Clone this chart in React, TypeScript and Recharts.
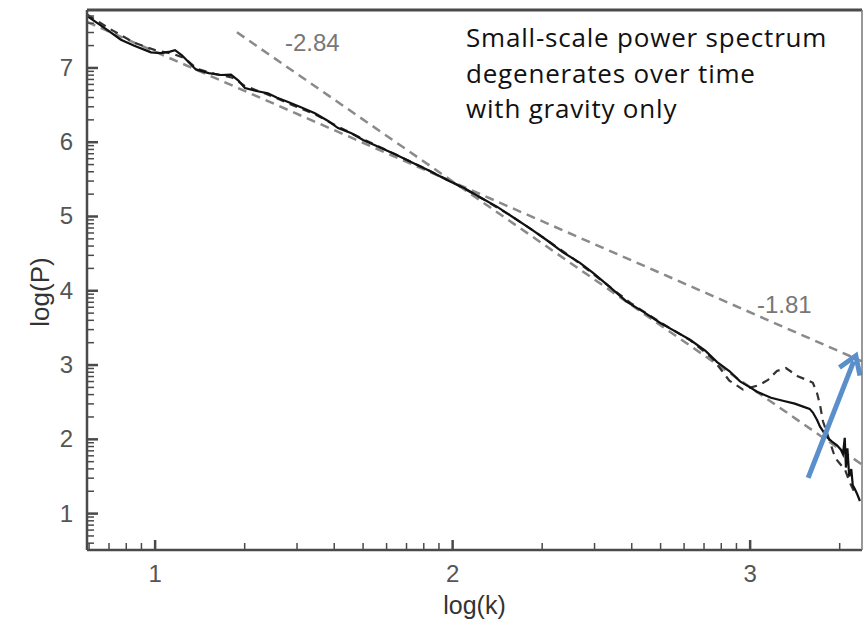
import React from 'react'
import { LineChart, Line, XAxis, YAxis } from 'recharts'

// axis ticks (log-scale minor ticks drawn inside the frame)
const kTicks = [1, 2, 3]
const pTicks = [1, 2, 3, 4, 5, 6, 7]
const kMinorTicks = [
  0.778, 0.845, 0.903, 0.954,
  1.301, 1.477, 1.602, 1.699, 1.778, 1.845, 1.903, 1.954,
  2.301, 2.477, 2.602, 2.699, 2.778, 2.845, 2.903, 2.954,
  3.301,
]
const pMinorTicks = [
  0.602, 0.699, 0.778, 0.845, 0.903, 0.954,
  1.301, 1.477, 1.602, 1.699, 1.778, 1.845, 1.903, 1.954,
  2.301, 2.477, 2.602, 2.699, 2.778, 2.845, 2.903, 2.954,
  3.301, 3.477, 3.602, 3.699, 3.778, 3.845, 3.903, 3.954,
  4.301, 4.477, 4.602, 4.699, 4.778, 4.845, 4.903, 4.954,
  5.301, 5.477, 5.602, 5.699, 5.778, 5.845, 5.903, 5.954,
  6.301, 6.477, 6.602, 6.699, 6.778, 6.845, 6.903, 6.954,
  7.301, 7.477, 7.602, 7.699,
]

// power spectrum, solid curve
const kSolid = [
  0.771, 0.8, 0.84, 0.885, 0.93, 0.986, 1.02, 1.05, 1.067, 1.09, 1.137, 1.18,
  1.221, 1.255, 1.28, 1.302, 1.34, 1.379, 1.41, 1.447, 1.49, 1.537, 1.58, 1.615,
  1.66, 1.699, 1.756, 1.81, 1.867, 1.92, 1.981, 2.04, 2.092, 2.15, 2.203, 2.26,
  2.317, 2.37, 2.428, 2.472, 2.52, 2.586, 2.64, 2.697, 2.75, 2.798, 2.85, 2.889,
  2.93, 2.966, 3.0, 3.023, 3.07, 3.11, 3.15, 3.178, 3.2, 3.211, 3.225, 3.235,
  3.258, 3.275, 3.292, 3.305, 3.312, 3.318, 3.322, 3.327, 3.333, 3.34, 3.345,
  3.352, 3.36, 3.369,
]
const pSolid = [
  7.7, 7.62, 7.51, 7.38, 7.3, 7.21, 7.2, 7.22, 7.24, 7.17, 6.98, 6.93,
  6.905, 6.91, 6.83, 6.73, 6.69, 6.66, 6.6, 6.54, 6.47, 6.39, 6.29, 6.19,
  6.12, 6.03, 5.93, 5.83, 5.72, 5.62, 5.49, 5.38, 5.26, 5.13, 4.99, 4.84,
  4.68, 4.52, 4.375, 4.24, 4.08, 3.85, 3.72, 3.57, 3.45, 3.34, 3.19, 3.04,
  2.92, 2.78, 2.7, 2.64, 2.56, 2.52, 2.48, 2.44, 2.41, 2.36, 2.26, 2.17,
  2.03, 1.97, 1.92, 1.86, 1.8, 2.02, 1.62, 1.88, 1.5, 1.6, 1.38,
  1.33, 1.26, 1.17,
]

// power spectrum, dashed curve
const kDashed = [
  0.771, 0.85, 0.93, 1.0, 1.06, 1.1, 1.14, 1.2, 1.26, 1.3, 1.38, 1.45, 1.54,
  1.62, 1.7, 1.8, 1.9, 2.0, 2.1, 2.2, 2.3, 2.4, 2.5, 2.6, 2.7, 2.8, 2.87, 2.9,
  2.93, 2.976, 3.03, 3.06, 3.09, 3.12, 3.16, 3.19, 3.211, 3.225, 3.235, 3.245,
  3.258, 3.28, 3.292, 3.319, 3.336, 3.352,
]
const pDashed = [
  7.72, 7.52, 7.34, 7.24, 7.19, 7.13, 6.99, 6.92, 6.87, 6.76, 6.64, 6.52, 6.37,
  6.2, 6.04, 5.85, 5.66, 5.46, 5.24, 5.0, 4.73, 4.45, 4.14, 3.83, 3.57, 3.33, 3.1, 2.95,
  2.79, 2.67, 2.73, 2.8, 2.92, 2.96, 2.85, 2.8, 2.76, 2.62, 2.46, 2.24,
  2.09, 1.82, 1.72, 1.59, 1.41, 1.28,
]

// power-law fits
const kFitShallow = [0.771, 3.376]
const pFitShallow = [7.62, 3.05]
const kFitSteep = [1.275, 3.376]
const pFitSteep = [7.48, 1.66]

// annotation arrow
const kArrow = [3.195, 3.348]
const pArrow = [1.48, 3.05]

const annotationLines = ['Small-scale power spectrum', 'degenerates over time', 'with gravity only']

const toRows = (k: number[], p: number[]) => k.map((v, i) => ({ k: v, p: p[i] }))

const kDomain: [number, number] = [0.771, 3.376]
const pDomain: [number, number] = [0.51, 7.78]

const axisColor = '#4a4a4a'
const fontFamily = '"Liberation Sans", Arial, sans-serif'

const NoLabel = () => <g />

// x labels sit under the frame, the tick marks point inwards
const XTickLabel = (props: any) => (
  <text x={props.x} y={582} textAnchor="middle" fontFamily={fontFamily} fontSize={24} fill="#555">
    {props.payload.value}
  </text>
)

const YTickLabel = (props: any) => (
  <text x={props.x} y={props.y} dy={8} textAnchor="end" fontFamily={fontFamily} fontSize={24} fill="#555">
    {props.payload.value}
  </text>
)

const PTitle = () => (
  <text x={40} y={292} transform="rotate(-90 40 292)" dy={9} textAnchor="middle"
    fontFamily={fontFamily} fontSize={26} fill="#333">
    log(P)
  </text>
)

export default function App() {
  return (
    <div style={{ position: 'absolute', left: 0, top: 0, width: 864, height: 626, background: '#fff' }}>
      <svg width={0} height={0} style={{ position: 'absolute' }}>
        <defs>
          <marker id="arrowHead" viewBox="0 0 28 28" markerWidth={28} markerHeight={28}
            refX={16} refY={14} orient="auto" markerUnits="userSpaceOnUse">
            <path d="M5,3 L22,14 L5,25" fill="none" stroke="#5b8fcb" strokeWidth={5} strokeLinejoin="miter" />
          </marker>
        </defs>
      </svg>
      <LineChart width={864} height={626} margin={{ top: 9, right: 1, bottom: 0, left: 0 }}>
        <XAxis xAxisId="k" type="number" dataKey="k" domain={kDomain} allowDataOverflow
          ticks={kTicks} interval={0} mirror height={1} tick={XTickLabel} tickSize={10}
          axisLine={{ stroke: axisColor, strokeWidth: 2.5 }} tickLine={{ stroke: axisColor, strokeWidth: 2.5 }}
          label={{ value: 'log(k)', position: 'insideBottom', offset: -64, style: { fontFamily, fill: '#333', fontSize: 25 } }} />
        <XAxis xAxisId="kMinor" type="number" dataKey="k" domain={kDomain} allowDataOverflow
          ticks={kMinorTicks} interval={0} mirror height={1} tick={NoLabel} tickSize={6}
          axisLine={false} tickLine={{ stroke: axisColor, strokeWidth: 1.5 }} />
        <XAxis xAxisId="kSpace" type="number" dataKey="k" domain={kDomain} allowDataOverflow
          height={76} tick={false} tickLine={false} axisLine={false} />
        <XAxis xAxisId="top" orientation="top" type="number" domain={kDomain} allowDataOverflow
          height={1} tick={false} tickLine={false} axisLine={{ stroke: axisColor, strokeWidth: 3 }} />

        <YAxis yAxisId="p" type="number" dataKey="p" domain={pDomain} allowDataOverflow
          ticks={pTicks} interval={0} mirror width={1} tick={NoLabel} tickSize={11}
          axisLine={{ stroke: axisColor, strokeWidth: 2.5 }} tickLine={{ stroke: axisColor, strokeWidth: 2.5 }} />
        <YAxis yAxisId="pMinor" type="number" domain={pDomain} allowDataOverflow
          ticks={pMinorTicks} interval={0} mirror width={1} tick={NoLabel} tickSize={6}
          axisLine={false} tickLine={{ stroke: axisColor, strokeWidth: 1.5 }} />
        <YAxis yAxisId="pLabel" type="number" domain={pDomain} allowDataOverflow
          ticks={pTicks} interval={0} width={87} tickLine={false} axisLine={false} tickMargin={8}
          tick={YTickLabel} label={<PTitle />} />
        <YAxis yAxisId="right" orientation="right" type="number" domain={pDomain} allowDataOverflow
          width={1} tick={false} tickLine={false} axisLine={{ stroke: '#777', strokeWidth: 1.5 }} />

        {/* the axes share one domain, so each series can hang on any of them */}
        <Line xAxisId="kMinor" yAxisId="p" data={toRows(kFitShallow, pFitShallow)} dataKey="p" type="linear"
          stroke="#8a8a8a" strokeWidth={2.5} strokeDasharray="9 6" dot={false} isAnimationActive={false} />
        <Line xAxisId="kSpace" yAxisId="p" data={toRows(kFitSteep, pFitSteep)} dataKey="p" type="linear"
          stroke="#8a8a8a" strokeWidth={2.5} strokeDasharray="9 6" dot={false} isAnimationActive={false} />
        <Line xAxisId="k" yAxisId="p" data={toRows(kDashed, pDashed)} dataKey="p" type="linear"
          stroke="#333" strokeWidth={2.2} strokeDasharray="8 6" dot={false} isAnimationActive={false} />
        <Line xAxisId="k" yAxisId="p" data={toRows(kSolid, pSolid)} dataKey="p" type="linear"
          stroke="#111" strokeWidth={2.2} dot={false} isAnimationActive={false} />
        <Line xAxisId="k" yAxisId="p" data={toRows(kArrow, pArrow)} dataKey="p" type="linear"
          stroke="#5b8fcb" strokeWidth={5} markerEnd="url(#arrowHead)" dot={false} isAnimationActive={false} />
      </LineChart>

      <div style={{ position: 'absolute', left: 285, top: 31, ...slopeStyle }}>-2.84</div>
      <div style={{ position: 'absolute', left: 757, top: 293, ...slopeStyle }}>-1.81</div>
      {annotationLines.map((line, i) => (
        <div key={line} style={{
          position: 'absolute', left: 466, top: 20 + i * 35.5, height: 35.5, fontFamily: '"Open Sans", sans-serif',
          fontSize: 26, letterSpacing: '0.8px', lineHeight: '35.5px', color: '#111', whiteSpace: 'nowrap',
        }}>
          {line}
        </div>
      ))}
    </div>
  )
}

const slopeStyle: React.CSSProperties = {
  fontFamily,
  fontSize: 24,
  lineHeight: '24px',
  color: '#777',
}
